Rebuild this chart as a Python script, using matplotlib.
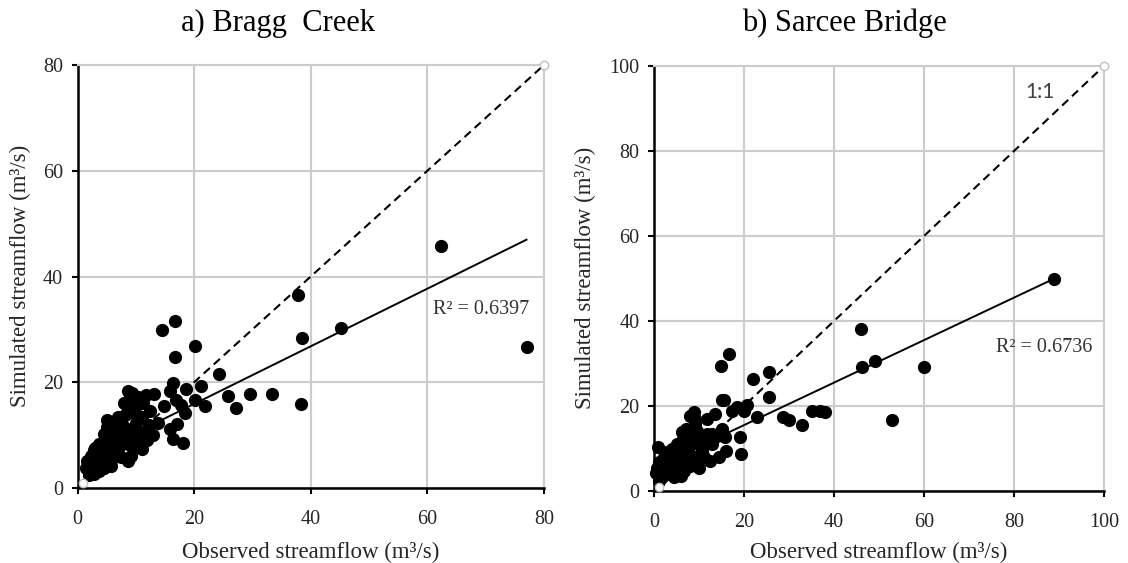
import matplotlib
matplotlib.use("Agg")
import matplotlib.pyplot as plt
import numpy as np

plt.rcParams['font.family'] = ['Liberation Serif', 'DejaVu Serif']

# a) Bragg Creek - observed vs simulated (m3/s)
bragg_obs = [62.3, 77.0, 37.8, 38.5, 38.4, 45.2, 33.3, 29.6, 27.1, 25.8, 24.3, 21.8,
             21.1, 20.1, 20.1, 18.6, 18.5, 18.1, 16.7, 14.5, 16.7, 16.3, 17.0, 15.8,
             16.3, 15.9, 13.8, 12.9, 13.2, 11.7, 11.3, 11.1, 12.2, 10.9,
             8.6, 8.9, 8.0, 10.3, 16.9, 17.7, 11.4, 10.0, 9.7, 8.6, 6.9, 5.1,
             6.3, 8.0, 8.9, 10.6, 11.1, 8.6, 6.9, 8.6, 9.1, 7.4, 6.3, 5.7,
             4.6, 4.9, 3.7, 2.9, 4.0, 5.1, 2.3, 1.7, 2.6, 3.4, 4.3, 2.0,
             2.9, 1.9, 3.7, 4.6, 1.4, 5.7, 6.9, 6.0, 7.4, 5.1,
             7.5, 9.5, 10.2, 7.8, 3.2, 2.4, 5.5, 6.5, 9.8, 12.0, 8.2, 9.3,
             10.0, 12.5, 14.8, 3.0, 4.2, 6.0]
bragg_sim = [45.8, 26.7, 36.5, 28.3, 15.8, 30.2, 17.7, 17.8, 15.2, 17.4, 21.6, 15.6,
             19.3, 26.8, 16.6, 18.7, 14.1, 8.5, 31.6, 29.8, 24.7, 9.3, 12.1, 11.1,
             19.8, 18.4, 12.3, 10.0, 17.7, 17.6, 16.0, 13.5, 11.9, 7.8,
             18.3, 16.7, 16.0, 17.3, 16.7, 15.7, 10.6, 12.2, 14.1, 15.1, 13.5, 12.8,
             11.9, 11.5, 10.3, 9.0, 7.4, 8.3, 7.4, 5.1, 6.1, 5.8, 5.8, 8.0,
             10.3, 9.0, 8.3, 7.1, 6.4, 6.7, 6.1, 5.1, 4.2, 4.8, 5.1, 3.2,
             2.6, 2.5, 3.2, 3.8, 3.8, 4.2, 9.0, 10.3, 10.3, 11.5,
             12.5, 11.0, 9.5, 8.8, 5.8, 4.8, 7.4, 6.5, 7.8, 9.0, 13.8, 18.0,
             15.5, 14.5, 15.5, 7.6, 7.8, 9.5]
bragg_slope, bragg_icept = 0.545, 5.0
bragg_r2 = "R² = 0.6397"

# b) Sarcee Bridge
sarcee_obs = [46.1, 46.3, 49.2, 52.9, 60.1, 88.9, 16.7, 14.9, 25.6, 22.1, 25.6, 15.1,
              22.8, 28.6, 30.1, 32.9, 35.2, 36.8, 38.0,
              8.8, 9.2, 8.1, 7.0, 9.6, 11.8, 13.6, 12.9, 15.1, 15.5, 17.3, 18.4,
              19.9, 20.6, 19.2, 16.1, 19.3, 14.4, 12.9, 10.7, 8.8, 9.9, 8.1, 6.6,
              5.9, 5.2, 4.4, 3.7, 4.4, 2.6, 1.1, 0.9, 0.7, 0.4, 1.5, 2.2, 2.9,
              4.1, 6.3, 7.4, 10.7, 11.8, 14.0, 15.8, 1.8, 3.3, 5.2, 6.6, 5.9,
              7.7, 9.2, 11.1, 12.5, 9.2, 6.3, 3.0, 2.0, 1.2, 4.8, 7.0, 10.0]
sarcee_sim = [38.1, 29.2, 30.6, 16.7, 29.2, 49.9, 32.2, 29.5, 28.1, 26.4, 22.2, 21.3,
              17.5, 17.4, 16.6, 15.6, 18.9, 18.9, 18.5,
              18.5, 17.0, 17.7, 14.6, 14.2, 17.0, 18.1, 13.4, 14.6, 21.3, 18.9, 19.7,
              18.9, 20.3, 12.6, 9.5, 8.7, 7.9, 11.0, 9.5, 7.9, 5.5, 5.9, 7.1,
              9.1, 11.0, 7.9, 5.5, 3.2, 3.9, 2.4, 10.4, 5.5, 4.3, 6.3, 7.9, 9.1,
              9.9, 11.8, 12.6, 11.8, 13.4, 13.0, 12.6, 3.2, 6.7, 5.5, 4.7, 3.5,
              10.3, 11.4, 7.9, 7.1, 15.8, 13.8, 4.5, 5.0, 6.8, 7.0, 9.0, 8.0]
sarcee_slope, sarcee_icept = 0.50, 5.5
sarcee_r2 = "R² = 0.6736"

W, H = 1128, 563
fig = plt.figure(figsize=(W / 100, H / 100), dpi=100)
ax1 = fig.add_axes([77.5 / W, 1 - 488 / H, 466.5 / W, 423 / H])
ax2 = fig.add_axes([654 / W, 1 - 491 / H, 450 / W, 425 / H])

grid_c = '#cccccc'


def style(ax, lim):
    ax.set_xlim(0, lim)
    ax.set_ylim(0, lim)
    ticks = np.arange(0, lim + 1, 20)
    ax.set_xticks(ticks)
    ax.set_yticks(ticks)
    ax.grid(True, color=grid_c, linewidth=1.5, zorder=0)
    ax.set_axisbelow(True)
    for s in ['top', 'right']:
        ax.spines[s].set_color(grid_c)
        ax.spines[s].set_linewidth(1.5)
    for s in ['left', 'bottom']:
        ax.spines[s].set_color('black')
        ax.spines[s].set_linewidth(1.8)
    ax.tick_params(axis='both', direction='out', length=4.5, width=1.5,
                   labelsize=14.5, labelcolor='#262626')
    ax.tick_params(axis='x', pad=11)
    ax.tick_params(axis='y', pad=6)


def panel(ax, obs, sim, lim, slope, icept, r2, r2_xy):
    style(ax, lim)
    ax.scatter(obs, sim, s=72, color='black', zorder=3, clip_on=False)
    ax.plot([1, lim], [1, lim], color='black', linewidth=1.5, dashes=(4, 2.5),
            marker='o', markersize=6, mfc='white', mec='#bfbfbf', mew=1,
            zorder=4, clip_on=False)
    xs = np.array([min(obs), max(obs)])
    ax.plot(xs, slope * xs + icept, color='black', linewidth=1.4, zorder=4)
    ax.text(r2_xy[0], r2_xy[1], r2, fontsize=14.5, color='#333333',
            ha='left', va='center', zorder=5)


panel(ax1, bragg_obs, bragg_sim, 80, bragg_slope, bragg_icept, bragg_r2, (60.9, 33.7))
panel(ax2, sarcee_obs, sarcee_sim, 100, sarcee_slope, sarcee_icept, sarcee_r2, (76.0, 33.7))
ax2.text(82.6, 94.0, "1:1", family='Lato', fontsize=15, color='#404040',
         ha='left', va='center')

# titles and axis labels in figure pixels
fig.text(278 / W, 1 - 23 / H, "a) Bragg  Creek", fontsize=22, ha='center', va='center')
fig.text(844 / W, 1 - 23 / H, "b) Sarcee Bridge", fontsize=22, ha='center', va='center')
for cx in (311, 879):
    fig.text(cx / W, 1 - 552 / H, "Observed streamflow (m³/s)", fontsize=16.5,
             ha='center', va='center', color='#262626')
for cx, cy in ((20.5, 276), (585, 278)):
    fig.text(cx / W, 1 - cy / H, "Simulated streamflow (m³/s)", fontsize=16.5,
             ha='center', va='center', rotation=90, color='#262626')

fig.savefig("out.png", dpi=100)
